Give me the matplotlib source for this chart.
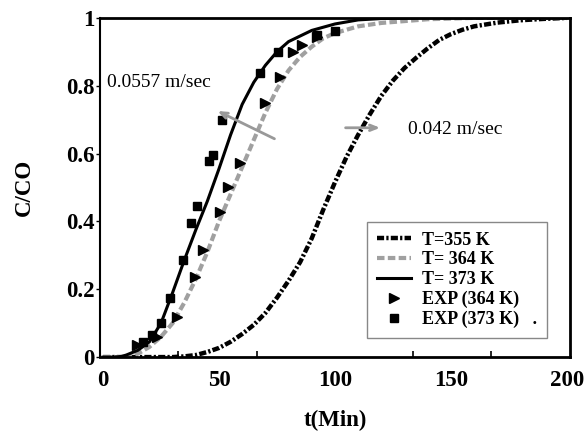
import numpy as np
import matplotlib
matplotlib.use('Agg')
import matplotlib.pyplot as plt

plt.rcParams['font.family'] = 'Liberation Serif'

# Model curves
t_355 = [0, 30, 35, 40, 45, 50, 55, 60, 65, 70, 75, 80, 85, 90, 95, 100, 105, 110,
         115, 120, 125, 130, 135, 140, 145, 150, 155, 160, 170, 180, 190, 200]
c_355 = [0, 0, 0.002, 0.006, 0.015, 0.027, 0.045, 0.068, 0.095, 0.13, 0.175, 0.225,
         0.28, 0.35, 0.435, 0.515, 0.59, 0.655, 0.715, 0.77, 0.815, 0.852, 0.882,
         0.91, 0.935, 0.952, 0.965, 0.975, 0.986, 0.993, 0.997, 1.0]

t_364 = [0, 10, 13, 15, 20, 25, 30, 35, 40, 45, 50, 55, 60, 65, 70, 75, 80, 85, 90,
         95, 100, 110, 120, 140, 160, 200]
c_364 = [0, 0, 0.003, 0.01, 0.03, 0.06, 0.10, 0.16, 0.23, 0.31, 0.40, 0.48, 0.56,
         0.64, 0.72, 0.79, 0.845, 0.885, 0.915, 0.94, 0.955, 0.975, 0.985, 0.996, 1.0, 1.0]

t_373 = [0, 5, 8, 10, 15, 20, 25, 30, 35, 40, 45, 50, 55, 60, 65, 70, 75, 80, 90,
         100, 110, 120, 140, 200]
c_373 = [0, 0, 0.002, 0.006, 0.02, 0.045, 0.10, 0.19, 0.285, 0.375, 0.46, 0.555,
         0.655, 0.745, 0.81, 0.86, 0.90, 0.93, 0.963, 0.982, 0.994, 0.998, 1.0, 1.0]

# Experimental points
exp364_t = [14.7, 23.3, 31.9, 39.7, 43.1, 50.4, 53.9, 59.0, 69.8, 76.3, 81.9, 85.8, 92.2]
exp364_c = [0.035, 0.06, 0.118, 0.236, 0.316, 0.428, 0.50, 0.572, 0.75, 0.826, 0.90, 0.92, 0.944]

exp373_t = [17.2, 21.0, 25.0, 28.9, 34.5, 37.9, 40.5, 45.7, 47.4, 51.3, 67.7, 75.4, 92.2, 100.0]
exp373_c = [0.044, 0.065, 0.10, 0.174, 0.286, 0.395, 0.445, 0.578, 0.596, 0.70, 0.838, 0.90, 0.95, 0.96]

x_ticks = [0, 50, 100, 150, 200]
y_ticks = [0, 0.2, 0.4, 0.6, 0.8, 1.0]
y_labels = ['0', '0.2', '0.4', '0.6', '0.8', '1']

fig = plt.figure(figsize=(5.85, 4.36), dpi=100)
ax = fig.add_axes([0.171, 0.181, 0.803, 0.778])

ax.plot(t_355, c_355, color='black', lw=3.2, linestyle=(0, (1.6, 0.5, 0.5, 0.5)),
        label='T=355 K')
ax.plot(t_364, c_364, color='#a0a0a0', lw=3.0, linestyle=(0, (1.8, 0.8)),
        label='T= 364 K')
ax.plot(t_373, c_373, color='black', lw=2.2, label='T= 373 K')
ax.plot(exp364_t, exp364_c, linestyle='none', marker='>', color='black',
        markersize=7.5, label='EXP (364 K)')
ax.plot(exp373_t, exp373_c, linestyle='none', marker='s', color='black',
        markersize=5.5, label='EXP (373 K)   .')

xmin, xmax = -1.3, 201.3
ax.set_xlim(xmin, xmax)
ax.set_ylim(0, 1)

ax.set_xticks(x_ticks)
ax.set_xticklabels([str(v) for v in x_ticks])
ax.tick_params(axis='x', which='major', length=0, pad=9, labelsize=16.5)
ax.set_xticks(np.linspace(xmin, xmax, 7)[1:-1], minor=True)
ax.tick_params(axis='x', which='minor', direction='in', length=4, width=1.2)

ax.set_yticks(y_ticks)
ax.set_yticklabels(y_labels)
ax.tick_params(axis='y', direction='out', length=3, width=1, pad=1, labelsize=16.5)
for lab in ax.get_xticklabels() + ax.get_yticklabels():
    lab.set_fontweight('bold')

for side in ['top', 'right', 'bottom']:
    ax.spines[side].set_linewidth(2)
ax.spines['left'].set_linewidth(1.5)

ax.set_xlabel('t(Min)', fontsize=16.5, fontweight='bold', labelpad=14)
ax.set_ylabel('C/CO', fontsize=16.5, fontweight='bold', labelpad=22)

# velocity annotations
ax.text(1.7, 0.81, '0.0557 m/sec', fontsize=14, va='center', ha='left')
ax.text(131.5, 0.67, '0.042 m/sec', fontsize=14, va='center', ha='left')
ax.annotate('', xy=(48.3, 0.729), xytext=(75, 0.64),
            arrowprops=dict(arrowstyle='->,head_length=0.5,head_width=0.2',
                            color='#999999', lw=2))
ax.annotate('', xy=(120.7, 0.676), xytext=(103.4, 0.676),
            arrowprops=dict(arrowstyle='->,head_length=0.5,head_width=0.2',
                            color='#999999', lw=2))

leg = ax.legend(loc='lower right', bbox_to_anchor=(0.951, 0.056), borderaxespad=0,
                prop={'weight': 'bold', 'size': 13}, labelspacing=0.15,
                handlelength=1.9, handletextpad=0.6, borderpad=0.55,
                fancybox=False, framealpha=1)
leg.get_frame().set_edgecolor('#888888')
leg.get_frame().set_linewidth(1)

fig.savefig('out.png', dpi=100)
